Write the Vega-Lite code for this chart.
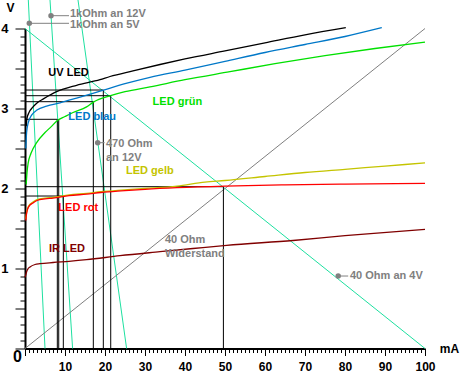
{
  "$schema": "https://vega.github.io/schema/vega-lite/v6.json",
  "width": 400,
  "height": 320,
  "autosize": {"type": "none"},
  "padding": {"left": 25, "top": 28.5, "right": 39, "bottom": 33.5},
  "background": "white",
  "config": {
    "view": {"stroke": null},
    "axis": {"labelOverlap": false, "tickCount": 500},
    "text": {"font": "Liberation Sans", "fontWeight": "bold", "fontSize": 11}
  },
  "datasets": {
    "segs": [
      {"s": "Last", "x": 0.83, "y": 4.356, "x2": 5, "y2": 0},
      {"s": "Last", "x": 6.25, "y": 4.356, "x2": 11.9, "y2": 0},
      {"s": "Last", "x": 13.25, "y": 4.356, "x2": 25.4, "y2": 0},
      {"s": "Last", "x": 0, "y": 4, "x2": 100, "y2": 0},
      {"s": "40 Ohm Widerstand", "x": 0, "y": 0, "x2": 100, "y2": 4},
      {"s": "Arbeitspunkt", "x": 0, "y": 3.231, "x2": 19.58, "y2": 3.231},
      {"s": "Arbeitspunkt", "x": 19.58, "y": 3.231, "x2": 19.58, "y2": 0},
      {"s": "Arbeitspunkt", "x": 0, "y": 3.16, "x2": 21.43, "y2": 3.16},
      {"s": "Arbeitspunkt", "x": 21.43, "y": 3.16, "x2": 21.43, "y2": 0},
      {"s": "Arbeitspunkt", "x": 0, "y": 3.085, "x2": 17.08, "y2": 3.085},
      {"s": "Arbeitspunkt", "x": 17.08, "y": 3.085, "x2": 17.08, "y2": 0},
      {"s": "Arbeitspunkt", "x": 0, "y": 2.865, "x2": 8.08, "y2": 2.865},
      {"s": "Arbeitspunkt", "x": 8.08, "y": 2.865, "x2": 8.08, "y2": 0},
      {"s": "Arbeitspunkt", "x": 8.43, "y": 2.865, "x2": 8.43, "y2": 0},
      {"s": "Arbeitspunkt", "x": 0, "y": 2.0225, "x2": 49.6, "y2": 2.0225},
      {"s": "Arbeitspunkt", "x": 49.6, "y": 2.0225, "x2": 49.6, "y2": 0},
      {"s": "Arbeitspunkt", "x": 0, "y": 1.906, "x2": 9.58, "y2": 1.906},
      {"s": "Arbeitspunkt", "x": 9.58, "y": 1.906, "x2": 9.58, "y2": 0},
      {"s": "Notiz", "x": 6.5, "y": 4.16, "x2": 11, "y2": 4.16},
      {"s": "Notiz", "x": 1.08, "y": 4.065, "x2": 11, "y2": 4.065},
      {"s": "Notiz", "x": 18.17, "y": 2.5725, "x2": 19.9, "y2": 2.5725},
      {"s": "Notiz", "x": 78.3, "y": 0.906, "x2": 80.8, "y2": 0.906}
    ],
    "curves": [
      {"s": "UV LED", "x": 0.3, "y": 2.78},
      {"s": "UV LED", "x": 0.5, "y": 2.88},
      {"s": "UV LED", "x": 1, "y": 2.95},
      {"s": "UV LED", "x": 2, "y": 3.02},
      {"s": "UV LED", "x": 3, "y": 3.07},
      {"s": "UV LED", "x": 4.6, "y": 3.12},
      {"s": "UV LED", "x": 7.9, "y": 3.21},
      {"s": "UV LED", "x": 12.9, "y": 3.29},
      {"s": "UV LED", "x": 18.75, "y": 3.36},
      {"s": "UV LED", "x": 21.25, "y": 3.4},
      {"s": "UV LED", "x": 27, "y": 3.47},
      {"s": "UV LED", "x": 33.75, "y": 3.55},
      {"s": "UV LED", "x": 40, "y": 3.62},
      {"s": "UV LED", "x": 50, "y": 3.72},
      {"s": "UV LED", "x": 60, "y": 3.82},
      {"s": "UV LED", "x": 70, "y": 3.92},
      {"s": "UV LED", "x": 80.2, "y": 4.01},
      {"s": "LED blau", "x": 0.2, "y": 2.5},
      {"s": "LED blau", "x": 0.4, "y": 2.7},
      {"s": "LED blau", "x": 0.8, "y": 2.82},
      {"s": "LED blau", "x": 1.7, "y": 2.92},
      {"s": "LED blau", "x": 3, "y": 2.98},
      {"s": "LED blau", "x": 5.4, "y": 3.03},
      {"s": "LED blau", "x": 8.75, "y": 3.07},
      {"s": "LED blau", "x": 12.9, "y": 3.13},
      {"s": "LED blau", "x": 19.6, "y": 3.23},
      {"s": "LED blau", "x": 25, "y": 3.31},
      {"s": "LED blau", "x": 31.25, "y": 3.39},
      {"s": "LED blau", "x": 40, "y": 3.48},
      {"s": "LED blau", "x": 50, "y": 3.59},
      {"s": "LED blau", "x": 60, "y": 3.7},
      {"s": "LED blau", "x": 70, "y": 3.8},
      {"s": "LED blau", "x": 80, "y": 3.9},
      {"s": "LED blau", "x": 89.2, "y": 4.01},
      {"s": "LED grün", "x": 0.3, "y": 2.05},
      {"s": "LED grün", "x": 0.5, "y": 2.2},
      {"s": "LED grün", "x": 0.8, "y": 2.32},
      {"s": "LED grün", "x": 1.5, "y": 2.44},
      {"s": "LED grün", "x": 3, "y": 2.58},
      {"s": "LED grün", "x": 5, "y": 2.7},
      {"s": "LED grün", "x": 6.5, "y": 2.77},
      {"s": "LED grün", "x": 8.1, "y": 2.85},
      {"s": "LED grün", "x": 10, "y": 2.9},
      {"s": "LED grün", "x": 12, "y": 2.95},
      {"s": "LED grün", "x": 15.4, "y": 3.02},
      {"s": "LED grün", "x": 17.1, "y": 3.08},
      {"s": "LED grün", "x": 21.4, "y": 3.16},
      {"s": "LED grün", "x": 25, "y": 3.21},
      {"s": "LED grün", "x": 31.25, "y": 3.27},
      {"s": "LED grün", "x": 40, "y": 3.36},
      {"s": "LED grün", "x": 51.25, "y": 3.46},
      {"s": "LED grün", "x": 62.5, "y": 3.56},
      {"s": "LED grün", "x": 75, "y": 3.66},
      {"s": "LED grün", "x": 87.5, "y": 3.75},
      {"s": "LED grün", "x": 100, "y": 3.83},
      {"s": "LED gelb", "x": 0.2, "y": 1.62},
      {"s": "LED gelb", "x": 0.4, "y": 1.7},
      {"s": "LED gelb", "x": 0.9, "y": 1.78},
      {"s": "LED gelb", "x": 2, "y": 1.83},
      {"s": "LED gelb", "x": 3, "y": 1.86},
      {"s": "LED gelb", "x": 5, "y": 1.88},
      {"s": "LED gelb", "x": 7, "y": 1.89},
      {"s": "LED gelb", "x": 11, "y": 1.92},
      {"s": "LED gelb", "x": 15.4, "y": 1.94},
      {"s": "LED gelb", "x": 19, "y": 1.96},
      {"s": "LED gelb", "x": 24, "y": 1.98},
      {"s": "LED gelb", "x": 30, "y": 2.0},
      {"s": "LED gelb", "x": 38, "y": 2.03},
      {"s": "LED gelb", "x": 45, "y": 2.08},
      {"s": "LED gelb", "x": 50, "y": 2.1},
      {"s": "LED gelb", "x": 60, "y": 2.15},
      {"s": "LED gelb", "x": 70, "y": 2.2},
      {"s": "LED gelb", "x": 80, "y": 2.24},
      {"s": "LED gelb", "x": 90, "y": 2.28},
      {"s": "LED gelb", "x": 100, "y": 2.32},
      {"s": "LED rot", "x": 0.2, "y": 1.6},
      {"s": "LED rot", "x": 0.4, "y": 1.69},
      {"s": "LED rot", "x": 0.9, "y": 1.77},
      {"s": "LED rot", "x": 2, "y": 1.82},
      {"s": "LED rot", "x": 3, "y": 1.85},
      {"s": "LED rot", "x": 5, "y": 1.87},
      {"s": "LED rot", "x": 7, "y": 1.88},
      {"s": "LED rot", "x": 11, "y": 1.91},
      {"s": "LED rot", "x": 15.4, "y": 1.93},
      {"s": "LED rot", "x": 19, "y": 1.95},
      {"s": "LED rot", "x": 24, "y": 1.97},
      {"s": "LED rot", "x": 30, "y": 1.99},
      {"s": "LED rot", "x": 38, "y": 2.01},
      {"s": "LED rot", "x": 50, "y": 2.03},
      {"s": "LED rot", "x": 65, "y": 2.045},
      {"s": "LED rot", "x": 80, "y": 2.055},
      {"s": "LED rot", "x": 100, "y": 2.065},
      {"s": "IR LED", "x": 0, "y": 0.89},
      {"s": "IR LED", "x": 0.2, "y": 0.92},
      {"s": "IR LED", "x": 0.4, "y": 0.96},
      {"s": "IR LED", "x": 0.8, "y": 1.0},
      {"s": "IR LED", "x": 1.25, "y": 1.02},
      {"s": "IR LED", "x": 2.5, "y": 1.05},
      {"s": "IR LED", "x": 3.75, "y": 1.06},
      {"s": "IR LED", "x": 7, "y": 1.075},
      {"s": "IR LED", "x": 11, "y": 1.09},
      {"s": "IR LED", "x": 15.4, "y": 1.11},
      {"s": "IR LED", "x": 23.75, "y": 1.16},
      {"s": "IR LED", "x": 33.75, "y": 1.21},
      {"s": "IR LED", "x": 42, "y": 1.25},
      {"s": "IR LED", "x": 50.4, "y": 1.29},
      {"s": "IR LED", "x": 67, "y": 1.35},
      {"s": "IR LED", "x": 80, "y": 1.41},
      {"s": "IR LED", "x": 100, "y": 1.49}
    ],
    "dots": [
      {"x": 6.5, "y": 4.16},
      {"x": 1.08, "y": 4.065},
      {"x": 18.17, "y": 2.5725},
      {"x": 78.3, "y": 0.906}
    ],
    "labels": [
      {"t": "1kOhm an 12V", "s": "Notiz", "x": 11.25, "y": 4.185},
      {"t": "1kOhm an 5V", "s": "Notiz", "x": 11.25, "y": 4.043},
      {"t": "UV LED", "s": "UV LED", "x": 5.83, "y": 3.444},
      {"t": "LED blau", "s": "LED blau", "x": 10.83, "y": 2.9},
      {"t": "LED grün", "s": "LED grün", "x": 31.9, "y": 3.085},
      {"t": "LED gelb", "s": "LED gelb", "x": 25.25, "y": 2.219},
      {"t": "LED rot", "s": "LED rot", "x": 8.33, "y": 1.7625},
      {"t": "IR LED", "s": "IR LED", "x": 6, "y": 1.25},
      {"t": "470 Ohm", "s": "Notiz", "x": 20.25, "y": 2.556},
      {"t": "an 12V", "s": "Notiz", "x": 20.25, "y": 2.3875},
      {"t": "40 Ohm", "s": "Notiz", "x": 35, "y": 1.3525},
      {"t": "Widerstand", "s": "Notiz", "x": 35, "y": 1.181},
      {"t": "40 Ohm an 4V", "s": "Notiz", "x": 81.25, "y": 0.91}
    ]
  },
  "layer": [
    {
      "data": {"name": "segs"},
      "mark": {"type": "rule", "clip": false, "strokeWidth": 1},
      "encoding": {
        "x": {
          "field": "x", "type": "quantitative",
          "scale": {"domain": [0, 100], "nice": false, "zero": false},
          "axis": {
            "values": [0,1,2,3,4,5,6,7,8,9,10,11,12,13,14,15,16,17,18,19,20,21,22,23,24,25,26,27,28,29,30,31,32,33,34,35,36,37,38,39,40,41,42,43,44,45,46,47,48,49,50,51,52,53,54,55,56,57,58,59,60,61,62,63,64,65,66,67,68,69,70,71,72,73,74,75,76,77,78,79,80,81,82,83,84,85,86,87,88,89,90,91,92,93,94,95,96,97,98,99,100],
            "tickCount": 500,
            "format": "d",
            "labelExpr": "datum.value % 10 == 0 && datum.value > 0 ? datum.label : ''",
            "tickSize": {"condition": {"test": "datum.value % 10 == 0", "value": 7}, "value": 4},
            "tickColor": "black", "tickWidth": 1,
            "domainColor": "black", "domainWidth": 2,
            "labelFont": "Liberation Sans", "labelFontWeight": "bold", "labelFontSize": 12, "labelColor": "black",
            "labelPadding": 6, "labelOverlap": false, "labelFlush": false, "grid": false,
            "title": "mA", "titleX": 424, "titleY": 0, "titleAlign": "center", "titleBaseline": "middle",
            "titleFont": "Liberation Sans", "titleFontSize": 12, "titleFontWeight": "bold", "titleColor": "black"
          }
        },
        "y": {
          "field": "y", "type": "quantitative",
          "scale": {"domain": [0, 4], "nice": false, "zero": false},
          "axis": {
            "values": [0,0.1,0.2,0.3,0.4,0.5,0.6,0.7,0.8,0.9,1,1.1,1.2,1.3,1.4,1.5,1.6,1.7,1.8,1.9,2,2.1,2.2,2.3,2.4,2.5,2.6,2.7,2.8,2.9,3,3.1,3.2,3.3,3.4,3.5,3.6,3.7,3.8,3.9,4],
            "tickCount": 500,
            "labelExpr": "datum.value > 0.5 && abs(datum.value - round(datum.value)) < 0.001 ? format(datum.value, 'd') : ''",
            "tickSize": {"condition": {"test": "abs(datum.value * 2 - round(datum.value * 2)) < 0.001", "value": 10}, "value": 5},
            "tickColor": "black", "tickWidth": 1,
            "domainColor": "black", "domainWidth": 2,
            "labelFont": "Liberation Sans", "labelFontWeight": "bold", "labelFontSize": 13, "labelColor": "black",
            "labelPadding": 7, "labelOverlap": false, "labelFlush": false, "grid": false,
            "title": "V", "titleAngle": 0, "titleX": -15, "titleY": -21, "titleAlign": "center", "titleBaseline": "middle",
            "titleFont": "Liberation Sans", "titleFontSize": 12, "titleFontWeight": "bold", "titleColor": "black"
          }
        },
        "x2": {"field": "x2"},
        "y2": {"field": "y2"},
        "color": {
          "field": "s", "type": "nominal", "legend": null,
          "scale": {
            "domain": ["UV LED", "LED blau", "LED grün", "LED gelb", "LED rot", "IR LED", "Last", "40 Ohm Widerstand", "Arbeitspunkt", "Notiz"],
            "range": ["#000000", "#0078c8", "#00e000", "#c4c400", "#ff0000", "#800000", "#1ee0a0", "#808080", "#000000", "#808080"]
          }
        }
      }
    },
    {
      "data": {"name": "curves"},
      "mark": {"type": "line", "clip": false, "strokeWidth": 1.3, "interpolate": "monotone"},
      "encoding": {
        "x": {"field": "x", "type": "quantitative"},
        "y": {"field": "y", "type": "quantitative"},
        "color": {"field": "s", "type": "nominal", "legend": null}
      }
    },
    {
      "data": {"name": "dots"},
      "mark": {"type": "circle", "clip": false, "size": 30, "color": "#808080", "opacity": 1},
      "encoding": {
        "x": {"field": "x", "type": "quantitative"},
        "y": {"field": "y", "type": "quantitative"}
      }
    },
    {
      "data": {"name": "labels"},
      "mark": {"type": "text", "clip": false, "align": "left", "baseline": "middle"},
      "encoding": {
        "x": {"field": "x", "type": "quantitative"},
        "y": {"field": "y", "type": "quantitative"},
        "text": {"field": "t"},
        "color": {"field": "s", "type": "nominal", "legend": null}
      }
    },
    {
      "data": {"values": [{"t": "0", "x": 0, "y": 0}]},
      "mark": {"type": "text", "clip": false, "align": "center", "baseline": "middle", "fontSize": 16, "dx": -7.5, "dy": 8.5, "color": "black"},
      "encoding": {
        "x": {"field": "x", "type": "quantitative"},
        "y": {"field": "y", "type": "quantitative"},
        "text": {"field": "t"}
      }
    }
  ]
}
